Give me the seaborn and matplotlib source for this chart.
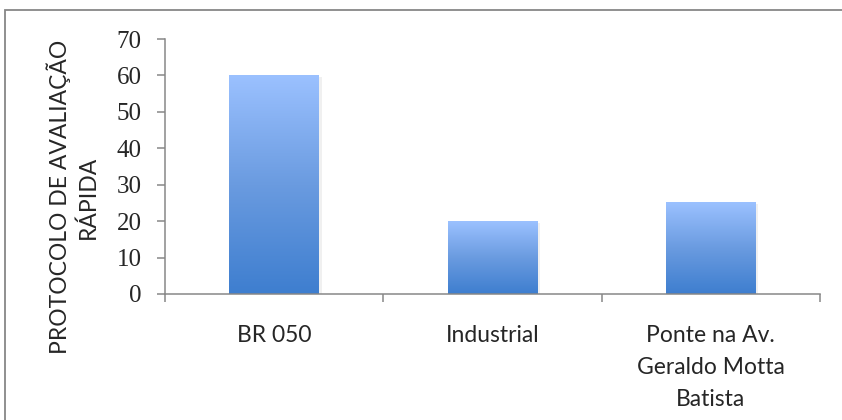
import numpy as np
import pandas as pd
import matplotlib
matplotlib.use('Agg')
import matplotlib.pyplot as plt
from matplotlib.colors import LinearSegmentedColormap
from matplotlib.patches import Rectangle
import seaborn as sns

# dados do gráfico
locais = ['BR 050', 'Industrial', 'Ponte na Av.\nGeraldo Motta\nBatista']
valores = [60, 20, 25]
rotulo_y = 'PROTOCOLO DE AVALIAÇÃO\nRÁPIDA'

sns.set_style('white')
plt.rcParams['font.family'] = ['Lato', 'DejaVu Sans']

cinza = '#878787'
fig = plt.figure(figsize=(8.42, 4.2), dpi=100)
ax = fig.add_axes([165 / 842, 1 - 294 / 420, (820 - 165) / 842, (294 - 39) / 420])

df = pd.DataFrame({'local': locais, 'valor': valores})
sns.barplot(data=df, x='local', y='valor', ax=ax, width=0.41, color='#6a9be0')

# degradê nas barras (claro em cima, escuro embaixo)
cmap = LinearSegmentedColormap.from_list('grad', ['#3e7ecf', '#6a9be0', '#9bc1ff'])
grad = np.linspace(0, 1, 256).reshape(-1, 1)
for p in ax.patches:
    x0, y0 = p.get_x(), p.get_y()
    w, h = p.get_width(), p.get_height()
    # sombra leve
    ax.add_patch(Rectangle((x0 + 0.012, y0), w, h - 0.4, facecolor='#000000',
                           alpha=0.06, edgecolor='none', zorder=1))
    ax.imshow(grad, extent=[x0, x0 + w, y0, y0 + h], origin='lower',
              cmap=cmap, aspect='auto', zorder=2)
    p.set_visible(False)

ax.set_xlim(-0.5, 2.5)
ax.set_ylim(0, 70)
ax.set_yticks(range(0, 71, 10))
ax.set_xticks([-0.5, 0.5, 1.5, 2.5], minor=True)
ax.set_xticks([0, 1, 2])
ax.set_xticklabels(locais, fontsize=16.5, linespacing=1.66)
ax.tick_params(axis='x', which='major', length=0, pad=22)
ax.tick_params(axis='x', which='minor', length=6, width=1.1, color=cinza, direction='out', bottom=True)
ax.tick_params(axis='y', length=6, width=1.1, color=cinza, direction='out', left=True, pad=11)
for lbl in ax.get_yticklabels():
    lbl.set_fontfamily('Liberation Serif')
    lbl.set_fontsize(18)
ax.set_xlabel('')
ax.set_ylabel('')

for s in ['top', 'right']:
    ax.spines[s].set_visible(False)
for s in ['left', 'bottom']:
    ax.spines[s].set_color(cinza)
    ax.spines[s].set_linewidth(1.1)

fig.text(73 / 842, 1 - 197 / 420, rotulo_y, rotation=90, ha='center', va='center',
         multialignment='center', fontsize=16.5, linespacing=1.35)

# moldura do gráfico
fig.patches.append(Rectangle((5 / 842, -0.05), 1.1, 1 - 10 / 420 + 0.05, transform=fig.transFigure,
                             fill=False, edgecolor=cinza, linewidth=1.3))

fig.savefig('out.png', dpi=100)
